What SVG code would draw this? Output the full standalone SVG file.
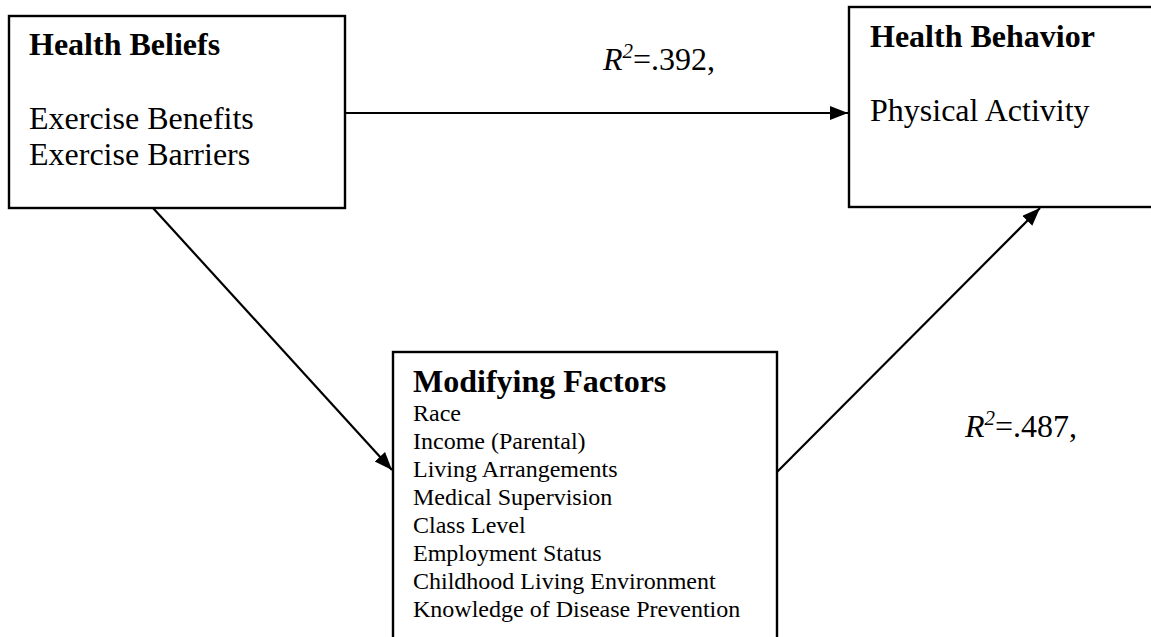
<svg xmlns="http://www.w3.org/2000/svg" width="1151" height="637" viewBox="0 0 1151 637">
<defs>
<style>
.box{fill:#fff;stroke:#000;stroke-width:2.4}
.t{font-family:"Liberation Serif","Times New Roman",serif;fill:#000}
.h{font-size:32px;font-weight:bold}
.b{font-size:32px}
.s{font-size:24px}
.c{stroke:#000;stroke-width:2.2;fill:none}
</style>
<marker id="ah" markerUnits="userSpaceOnUse" markerWidth="19" markerHeight="15" refX="18" refY="7" orient="auto">
<path d="M0,0 L18,7 L0,14 z" fill="#000"/>
</marker>
</defs>
<rect width="1151" height="637" fill="#fff"/>
<g id="connectors">
<line class="c" x1="345" y1="113" x2="848" y2="113" marker-end="url(#ah)"/>
<line class="c" x1="153" y1="208" x2="392" y2="470" marker-end="url(#ah)"/>
<line class="c" x1="777" y1="472" x2="1040" y2="208" marker-end="url(#ah)"/>
</g>
<g id="health-beliefs">
<rect class="box" x="9" y="16" width="336" height="192"/>
<text class="t h" x="29" y="55">Health Beliefs</text>
<text class="t b" x="29" y="129">Exercise Benefits</text>
<text class="t b" x="29" y="165">Exercise Barriers</text>
</g>
<g id="health-behavior">
<rect class="box" x="849" y="7" width="320" height="200"/>
<text class="t h" x="870" y="47">Health Behavior</text>
<text class="t b" x="870" y="121">Physical Activity</text>
</g>
<g id="modifying-factors">
<rect class="box" x="393" y="352" width="384" height="300"/>
<text class="t h" x="413" y="392">Modifying Factors</text>
<text class="t s" x="413" y="421">Race</text>
<text class="t s" x="413" y="449">Income (Parental)</text>
<text class="t s" x="413" y="477">Living Arrangements</text>
<text class="t s" x="413" y="505">Medical Supervision</text>
<text class="t s" x="413" y="533">Class Level</text>
<text class="t s" x="413" y="561">Employment Status</text>
<text class="t s" x="413" y="589">Childhood Living Environment</text>
<text class="t s" x="413" y="617">Knowledge of Disease Prevention</text>
</g>
<g id="labels">
<text class="t b" x="603" y="70"><tspan font-style="italic">R</tspan><tspan font-style="italic" font-size="21" dy="-12">2</tspan><tspan dy="12">=.392,</tspan></text>
<text class="t b" x="965" y="437"><tspan font-style="italic">R</tspan><tspan font-style="italic" font-size="21" dy="-12">2</tspan><tspan dy="12">=.487,</tspan></text>
</g>
</svg>
